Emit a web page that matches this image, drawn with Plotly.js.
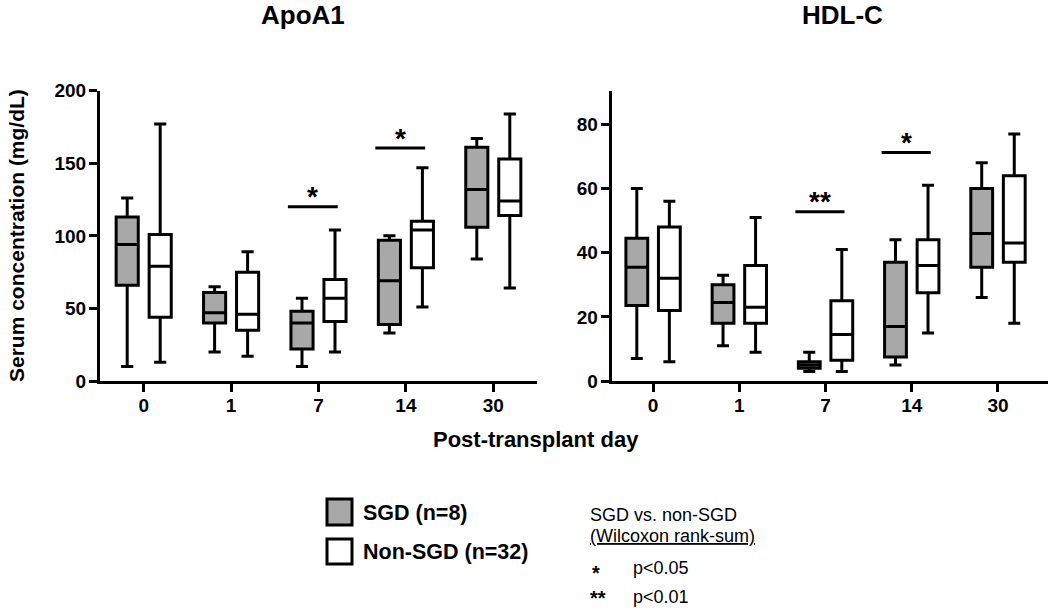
<!DOCTYPE html>
<html>
<head>
<meta charset="utf-8">
<script src="https://cdn.plot.ly/plotly-3.0.1.min.js"></script>
<style>html,body{margin:0;padding:0;background:#fff;}#chart{width:1050px;height:611px;}</style>
</head>
<body>
<div id="chart"></div>
<script>
// ---- Data ----
const days = ['0', '1', '7', '14', '30'];

// ApoA1 (mg/dL)
const apoSGD_low = [10, 20, 10, 33, 84];
const apoSGD_q1  = [66, 40, 22, 39, 106];
const apoSGD_med = [94, 47, 40, 69, 132];
const apoSGD_q3  = [113, 61, 48, 97, 161];
const apoSGD_up  = [126, 65, 57, 100, 167];

const apoNon_low = [13, 17, 20, 51, 64];
const apoNon_q1  = [44, 35, 41, 78, 114];
const apoNon_med = [79, 46, 57, 104, 124];
const apoNon_q3  = [101, 75, 70, 110, 153];
const apoNon_up  = [177, 89, 104, 147, 184];

// HDL-C (mg/dL)
const hdlSGD_low = [7, 11, 3, 5, 26];
const hdlSGD_q1  = [23.5, 18, 4, 7.5, 35.5];
const hdlSGD_med = [35.5, 24.5, 5, 17, 46];
const hdlSGD_q3  = [44.5, 30, 6, 37, 60];
const hdlSGD_up  = [60, 33, 9, 44, 68];

const hdlNon_low = [6, 9, 3, 15, 18];
const hdlNon_q1  = [22, 18, 6.5, 27.5, 37];
const hdlNon_med = [32, 23, 14.5, 36, 43];
const hdlNon_q3  = [48, 36, 25, 44, 64];
const hdlNon_up  = [56, 51, 41, 61, 77];

// Significance markers
const apoSigDays = ['7', '14'];
const apoSigY    = [120, 160.5];
const apoSigText = ['*', '*'];
const hdlSigDays = ['7', '14'];
const hdlSigY    = [52.8, 71.2];
const hdlSigText = ['**', '*'];

// ---- Styling ----
const FONT = 'Liberation Sans, Arial, Helvetica, sans-serif';
const GRAY = '#a8a8a8';
const LW = 3;

function boxTrace(name, fill, low, q1, med, q3, up, xa, ya) {
  return {
    type: 'box', name: name, x: days,
    lowerfence: low, q1: q1, median: med, q3: q3, upperfence: up,
    xaxis: xa, yaxis: ya,
    fillcolor: fill, line: {color: '#000', width: LW},
    whiskerwidth: 0.55, boxpoints: false, hoverinfo: 'skip',
    offsetgroup: name, showlegend: false
  };
}

const traces = [
  boxTrace('SGD', GRAY, apoSGD_low, apoSGD_q1, apoSGD_med, apoSGD_q3, apoSGD_up, 'x', 'y'),
  boxTrace('Non-SGD', '#ffffff', apoNon_low, apoNon_q1, apoNon_med, apoNon_q3, apoNon_up, 'x', 'y'),
  boxTrace('SGD', GRAY, hdlSGD_low, hdlSGD_q1, hdlSGD_med, hdlSGD_q3, hdlSGD_up, 'x2', 'y2'),
  boxTrace('Non-SGD', '#ffffff', hdlNon_low, hdlNon_q1, hdlNon_med, hdlNon_q3, hdlNon_up, 'x2', 'y2')
];

const tickFont = {family: FONT, size: 19, color: '#000', weight: 'bold'};
function xAxis(domain, range, anchor) {
  return {
    domain: domain, range: range, type: 'category', categoryorder: 'array', categoryarray: days,
    anchor: anchor,
    showline: true, linewidth: LW, linecolor: '#000', mirror: false,
    ticks: 'outside', ticklen: 8, tickwidth: LW, tickcolor: '#000', ticklabelstandoff: -3,
    showgrid: false, zeroline: false, tickfont: tickFont, fixedrange: true
  };
}
function yAxis(domain, range, dtick, anchor) {
  return {
    domain: domain, range: range, dtick: dtick, tick0: 0, anchor: anchor,
    showline: true, linewidth: LW, linecolor: '#000',
    ticks: 'outside', ticklen: 8, tickwidth: LW, tickcolor: '#000', ticklabelstandoff: -1,
    showgrid: false, zeroline: false, tickfont: tickFont, fixedrange: true
  };
}

const PW = 1050, PH = 611;
const px = v => v / PW;
const py = v => 1 - v / PH;

const shapes = [];
const annotations = [];
const SIG_L = -0.35, SIG_R = 0.22;
function addSig(sigDays, sigY, sigText, xr, yr, shift) {
  sigDays.forEach((d, i) => {
    const idx = days.indexOf(d);
    shapes.push({type: 'line', xref: xr, yref: yr, x0: idx + SIG_L, x1: idx + SIG_R, y0: sigY[i], y1: sigY[i],
      line: {color: '#000', width: LW}});
    annotations.push({xref: xr, yref: yr, x: idx + (SIG_L + SIG_R) / 2, y: sigY[i], text: sigText[i],
      showarrow: false, yanchor: 'middle', yshift: shift,
      font: {family: FONT, size: 28, color: '#000', weight: 'bold'}});
  });
}
addSig(apoSigDays, apoSigY, apoSigText, 'x', 'y', 10);
addSig(hdlSigDays, hdlSigY, hdlSigText, 'x2', 'y2', 10);

// Panel titles
annotations.push({xref: 'paper', yref: 'paper', x: px(303), y: py(15), text: 'ApoA1', showarrow: false,
  xanchor: 'center', yanchor: 'middle', font: {family: FONT, size: 26, color: '#000', weight: 'bold'}});
annotations.push({xref: 'paper', yref: 'paper', x: px(842), y: py(15), text: 'HDL-C', showarrow: false,
  xanchor: 'center', yanchor: 'middle', font: {family: FONT, size: 26, color: '#000', weight: 'bold'}});
// Shared y title (left panel)
annotations.push({xref: 'paper', yref: 'paper', x: px(16), y: py(236), text: 'Serum concentration (mg/dL)',
  showarrow: false, textangle: -90, xanchor: 'center', yanchor: 'middle',
  font: {family: FONT, size: 21, color: '#000', weight: 'bold'}});
// Shared x title
annotations.push({xref: 'paper', yref: 'paper', x: px(536), y: py(439), text: 'Post-transplant day', showarrow: false,
  xanchor: 'center', yanchor: 'middle', font: {family: FONT, size: 22, color: '#000', weight: 'bold'}});

// Legend keys
shapes.push({type: 'rect', xref: 'paper', yref: 'paper', x0: px(327), x1: px(352), y0: py(525), y1: py(499),
  fillcolor: GRAY, line: {color: '#000', width: LW}});
shapes.push({type: 'rect', xref: 'paper', yref: 'paper', x0: px(327), x1: px(352), y0: py(564), y1: py(539),
  fillcolor: '#fff', line: {color: '#000', width: LW}});
const legFont = {family: FONT, size: 21.5, color: '#000', weight: 'bold'};
annotations.push({xref: 'paper', yref: 'paper', x: px(361), y: py(513), text: 'SGD (n=8)', showarrow: false,
  xanchor: 'left', yanchor: 'middle', font: legFont});
annotations.push({xref: 'paper', yref: 'paper', x: px(361), y: py(552), text: 'Non-SGD (n=32)', showarrow: false,
  xanchor: 'left', yanchor: 'middle', font: legFont});

const noteFont = {family: FONT, size: 18, color: '#000'};
const starFont = {family: FONT, size: 20, color: '#000', weight: 'bold'};
annotations.push({xref: 'paper', yref: 'paper', x: px(588), y: py(515), text: 'SGD vs. non-SGD', showarrow: false,
  xanchor: 'left', yanchor: 'middle', font: noteFont});
annotations.push({xref: 'paper', yref: 'paper', x: px(588), y: py(536), text: '<u>(Wilcoxon rank-sum)</u>', showarrow: false,
  xanchor: 'left', yanchor: 'middle', font: noteFont});
annotations.push({xref: 'paper', yref: 'paper', x: px(590), y: py(573), text: '*', showarrow: false,
  xanchor: 'left', yanchor: 'middle', font: starFont});
annotations.push({xref: 'paper', yref: 'paper', x: px(631), y: py(568), text: 'p<0.05', showarrow: false,
  xanchor: 'left', yanchor: 'middle', font: noteFont});
annotations.push({xref: 'paper', yref: 'paper', x: px(588), y: py(598), text: '**', showarrow: false,
  xanchor: 'left', yanchor: 'middle', font: starFont});
annotations.push({xref: 'paper', yref: 'paper', x: px(631), y: py(597), text: 'p<0.01', showarrow: false,
  xanchor: 'left', yanchor: 'middle', font: noteFont});

const layout = {
  width: PW, height: PH,
  margin: {l: 0, r: 0, t: 0, b: 0},
  paper_bgcolor: '#fff', plot_bgcolor: '#fff',
  boxmode: 'group', boxgap: 0.245, boxgroupgap: 0.33,
  showlegend: false,
  xaxis: xAxis([px(100), px(537)], [-0.5, 4.5], 'y'),
  yaxis: yAxis([py(381), py(90.7)], [0, 200], 50, 'x'),
  xaxis2: xAxis([px(611.7), px(1048)], [-0.48, 4.58], 'y2'),
  yaxis2: yAxis([py(381), py(90.7)], [0, 90.5], 20, 'x2'),
  shapes: shapes,
  annotations: annotations,
  font: {family: FONT}
};

Plotly.newPlot('chart', traces, layout, {staticPlot: true, displayModeBar: false});
</script>
</body>
</html>
